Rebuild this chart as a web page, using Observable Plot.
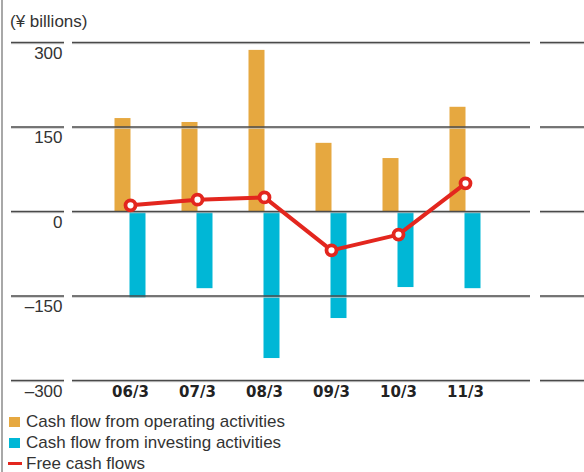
<!DOCTYPE html>
<html>
<head>
<meta charset="utf-8">
<script src="https://cdn.jsdelivr.net/npm/d3@7"></script>
<script src="https://cdn.jsdelivr.net/npm/@observablehq/plot@0.6"></script>
<style>
  body { margin: 0; background: #fff; }
  #wrap { position: relative; width: 584px; height: 472px; overflow: hidden; font-family: "Liberation Sans", Arial, sans-serif; color: #333; }
  #border { position: absolute; left: 1px; top: 0; width: 2px; height: 472px; background: #a8a8a8; }
  #title { height: 20px; padding-top: 12px; padding-left: 10px; font-size: 17px; line-height: 20px; }
  #chart svg { display: block; }
  #legend { margin-top: -1px; font-size: 17px; line-height: 16px; }
  .row { display: flex; align-items: center; height: 21px; }
  .sw { width: 11px; height: 10px; margin-left: 9px; margin-right: 6px; flex: none; }
  .ln { width: 14px; height: 3px; margin-left: 8px; margin-right: 4px; flex: none; }
</style>
</head>
<body>
<div id="wrap">
  <div id="border"></div>
  <div id="title">(¥ billions)</div>
  <div id="chart"></div>
  <div id="legend"></div>
</div>
<script>
const periods = ["06/3", "07/3", "08/3", "09/3", "10/3", "11/3"];
const operating = [165, 158, 286, 121, 94, 185];
const investing = [-154, -137, -261, -190, -135, -137];
const freeCF = [11, 21, 25, -69, -41, 50];
const yTicks = [-300, -150, 0, 150, 300];
const seriesNames = ["Cash flow from operating activities", "Cash flow from investing activities", "Free cash flows"];
const colors = ["#E6A840", "#00B7D6", "#E3261E"];

const rows = periods.map((p, i) => ({period: p, op: operating[i], inv: investing[i], fcf: freeCF[i]}));
const fmt = d => d < 0 ? "\u2013" + Math.abs(d) : String(d);

const gridMarks = [];
for (const [stroke, sw, dy] of [["#c4c4c4", 1, 1.2], ["#4a4a4a", 1.3, 0]]) {
  gridMarks.push(Plot.ruleY(yTicks, {stroke, strokeWidth: sw, dy}));
  gridMarks.push(Plot.axisY(yTicks, {anchor: "left", tickSize: 53, dx: -8, dy, stroke, strokeWidth: sw, fill: "none", label: null}));
  gridMarks.push(Plot.axisY(yTicks, {anchor: "right", tickSize: 46, dx: 9, dy, stroke, strokeWidth: sw, fill: "none", label: null}));
}

const plot = Plot.plot({
  width: 584,
  height: 380,
  marginLeft: 72,
  marginRight: 54,
  marginTop: 10,
  marginBottom: 32,
  style: {fontFamily: "Liberation Sans, Arial, sans-serif", fontSize: "17px", color: "#333", background: "#fff"},
  x: {type: "band", domain: periods, range: [94.75, 499.75], paddingInner: 0.763, paddingOuter: 0.3815},
  y: {domain: [-300, 300]},
  marks: [
    Plot.barY(rows, {x: "period", y: "op", fill: colors[0], dx: -7.5}),
    Plot.barY(rows, {x: "period", y: "inv", fill: colors[1], dx: 7.5}),
    ...gridMarks,
    Plot.axisY(yTicks, {anchor: "left", tickSize: 0, tickPadding: 0, dx: -10, dy: 11, tickFormat: fmt, fill: "#333", fontSize: 17, label: null}),
    Plot.axisX({tickSize: 0, tickPadding: 6, fontWeight: "bold", fontFamily: "DejaVu Sans, sans-serif", fontSize: 15, fill: "#222", label: null}),
    Plot.line(rows, {x: "period", y: "fcf", stroke: colors[2], strokeWidth: 4}),
    Plot.dot(rows, {x: "period", y: "fcf", r: 5, fill: "#fff", stroke: colors[2], strokeWidth: 3.8})
  ]
});
document.getElementById("chart").appendChild(plot);

const legend = document.getElementById("legend");
seriesNames.forEach((name, i) => {
  const row = document.createElement("div");
  row.className = "row";
  const sw = document.createElement("div");
  sw.className = i < 2 ? "sw" : "ln";
  sw.style.background = colors[i];
  const t = document.createElement("span");
  t.textContent = name;
  row.appendChild(sw);
  row.appendChild(t);
  legend.appendChild(row);
});
</script>
</body>
</html>
